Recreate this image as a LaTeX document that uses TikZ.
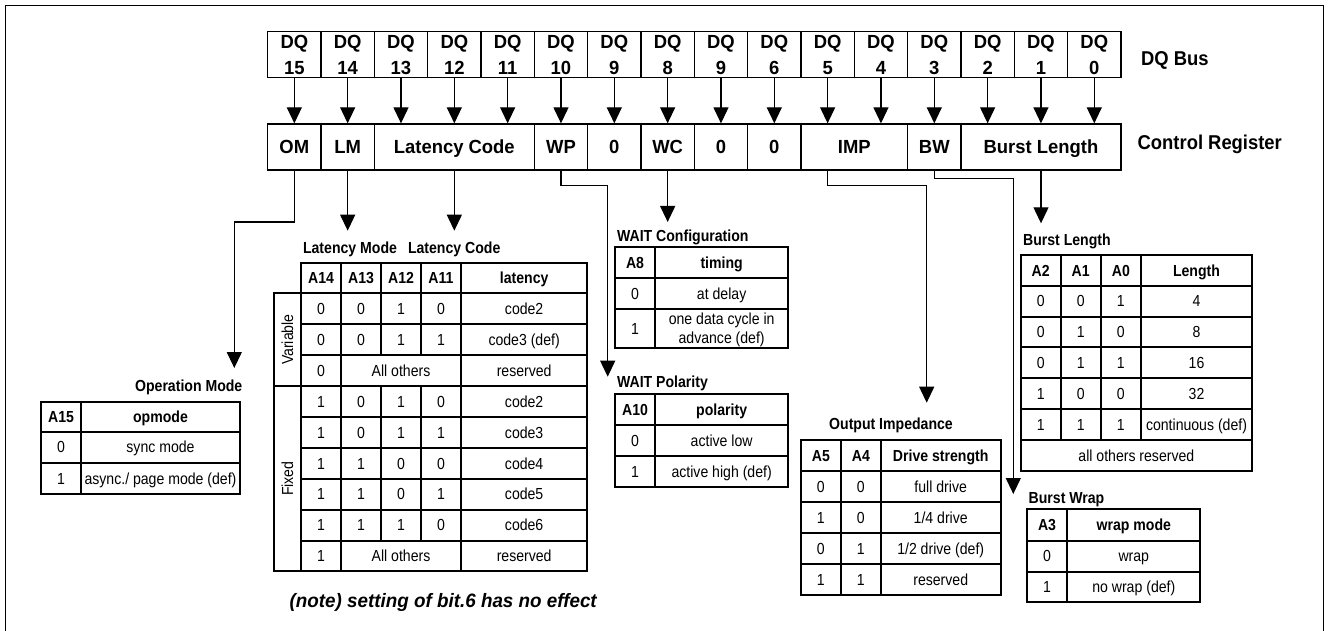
\documentclass[tikz,border=0pt]{standalone}
\usepackage{fontspec}
\setmainfont{Liberation Sans}
\newfontfamily\tabf[FakeStretch=0.88]{Liberation Sans}
\newfontfamily\regf[FakeStretch=0.97]{Liberation Sans}
\newfontfamily\lblf[FakeStretch=0.92]{Liberation Sans}
\usetikzlibrary{arrows.meta}
\tikzset{
  dqcell/.style={draw, line width=0.65pt, minimum width=26.67pt, minimum height=23pt, inner sep=0pt, align=center, font=\regf\bfseries\fontsize{9.5}{13}\selectfont},
  regcell/.style={draw, line width=0.65pt, minimum height=23pt, inner sep=0pt, font=\regf\bfseries\fontsize{9.5}{11}\selectfont, text height=6.8pt, text depth=0pt},
  conn/.style={line width=0.6pt, -{Triangle[width=7.5pt,length=8pt]}},
  tbl/.style={line width=0.9pt},
  tc/.style={inner sep=0pt, font=\tabf\fontsize{8}{9.6}\selectfont, text height=5.73pt, text depth=0pt},
  th/.style={tc, font=\tabf\bfseries\fontsize{8}{9.6}\selectfont},
  ttl/.style={th},
  lbl/.style={inner sep=0pt, font=\lblf\bfseries\fontsize{10}{12}\selectfont, text height=7.2pt, text depth=0pt},
}
\begin{document}
\begin{tikzpicture}[x=0.5pt,y=-0.5pt]
\useasboundingbox (0,0) rectangle (1329,631);
\draw[line width=0.5pt] (5.7,631) -- (5.7,6) -- (1323,6) -- (1323,631);

% DQ bus
\foreach \lab [count=\i from 0] in {15,14,13,12,11,10,9,8,9,6,5,4,3,2,1,0} {
  \node[dqcell] (dq\i) at ({294.33+53.33*\i},54.7) {DQ\\\lab};
}
\node[lbl, anchor=west] (dqbus) at (1140.7,58) {DQ Bus};

% Control register
\node[regcell, minimum width=26.67pt] (om) at (294.33,147) {OM};
\node[regcell, minimum width=26.67pt] (lm) at (347.67,147) {LM};
\node[regcell, minimum width=80pt] (lc) at (454.33,147) {Latency Code};
\node[regcell, minimum width=26.67pt] (wp) at (561,147) {WP};
\node[regcell, minimum width=26.67pt] (r9) at (614.33,147) {0};
\node[regcell, minimum width=26.67pt] (wc) at (667.67,147) {WC};
\node[regcell, minimum width=26.67pt] (r7) at (721,147) {0};
\node[regcell, minimum width=26.67pt] (r6) at (774.33,147) {0};
\node[regcell, minimum width=53.33pt] (imp) at (854.33,147) {IMP};
\node[regcell, minimum width=26.67pt] (bw) at (934.33,147) {BW};
\node[regcell, minimum width=80pt] (bl) at (1041,147) {Burst Length};
\node[lbl, anchor=west] (ctrl) at (1137.3,142.5) {Control Register};

\foreach \i/\r in {0/om,1/lm,2/lc,3/lc,4/lc,5/wp,6/r9,7/wc,8/r7,9/r6,10/imp,11/imp,12/bw,13/bl,14/bl,15/bl}
  \draw[conn] (dq\i.south) -- (dq\i.south |- \r.north);

% connectors to tables
\coordinate (omtip) at (234.3,368);
\coordinate (lmtip) at (347.67,230.7);
\coordinate (lctip) at (454.33,230.7);
\coordinate (wptip) at (607.7,376.7);
\coordinate (wctip) at (667.67,222);
\coordinate (imptip) at (926.7,402.7);
\coordinate (bwtip) at (1013.3,494);
\coordinate (bltip) at (1041,223.3);
\draw[conn] (om.south) |- (234.3,222) -- (omtip);
\draw[conn] (lm.south) -- (lmtip);
\draw[conn] (lc.south) -- (lctip);
\draw[conn] (wp.south) |- (607.7,185.7) -- (wptip);
\draw[conn] (wc.south) -- (wctip);
\draw[conn] (dq10.center |- imp.south) |- (926.7,185.7) -- (imptip);
\draw[conn] (bw.south) |- (1013.3,178.3) -- (bwtip);
\draw[conn] (bl.south) -- (bltip);

% Operation Mode table
\node[ttl, anchor=east] (t-om) at (242.7,385.7) {Operation Mode};
\draw[tbl] (41,401.7) rectangle (240,494.3) (81,401.7) -- (81,494.3) (41,431.7) -- (240,431.7) (41,462.7) -- (240,462.7);
\node[th] (om-h1) at (61,416.7) {A15};
\node[th] (om-h2) at (160.5,416.7) {opmode};
\node[tc] (om-11) at (61,447.2) {0};
\node[tc] (om-12) at (160.5,447.2) {sync mode};
\node[tc] (om-21) at (61,478.5) {1};
\node[tc] (om-22) at (160.5,478.5) {async./ page mode (def)};

% Latency table
\node[ttl] (t-lm) at (350,247.3) {Latency Mode};
\node[ttl] (t-lc) at (454.2,247.3) {Latency Code};
\draw[tbl] (301,262.7) rectangle (587.3,571.3);
\draw[tbl] (274,293.3) rectangle (301,571.3);
\draw[tbl] (274,386) -- (301,386);
\foreach \y in {293.3,324.3,355.3,386,416.7,448,478.7,509.7,540.7} \draw[tbl] (301,\y) -- (587.3,\y);
\draw[tbl] (341,262.7) -- (341,571.3) (461,262.7) -- (461,571.3);
\foreach \x in {381,421} \draw[tbl] (\x,262.7) -- (\x,355.3) (\x,386) -- (\x,540.7);
\foreach \t/\x [count=\k] in {A14/321,A13/361,A12/401,A11/441,latency/524.15}
  \node[th] (lt-h\k) at (\x,278) {\t};
\foreach \y/\a/\b/\c/\d/\e [count=\k] in {308.8/0/0/1/0/code2, 339.8/0/0/1/1/code3 (def), 401.35/1/0/1/0/code2, 432.35/1/0/1/1/code3, 463.35/1/1/0/0/code4, 494.2/1/1/0/1/code5, 525.2/1/1/1/0/code6} {
  \node[tc] (lt-\k a) at (321,\y) {\a};
  \node[tc] (lt-\k b) at (361,\y) {\b};
  \node[tc] (lt-\k c) at (401,\y) {\c};
  \node[tc] (lt-\k d) at (441,\y) {\d};
  \node[tc] (lt-\k e) at (524.15,\y) {\e};
}
\node[tc] (lt-va) at (321,370.65) {0};
\node[tc] (lt-vb) at (401,370.65) {All others};
\node[tc] (lt-vc) at (524.15,370.65) {reserved};
\node[tc] (lt-fa) at (321,556) {1};
\node[tc] (lt-fb) at (401,556) {All others};
\node[tc] (lt-fc) at (524.15,556) {reserved};
\node[tc, rotate=90] (lt-var) at (287.5,339.65) {Variable};
\node[tc, rotate=90] (lt-fix) at (287.5,478.65) {Fixed};

% WAIT Configuration
\node[ttl, anchor=west] (t-wc) at (616.7,235.7) {WAIT Configuration};
\draw[tbl] (615,247.3) rectangle (788.3,347.7) (655,247.3) -- (655,347.7) (615,278.3) -- (788.3,278.3) (615,309.3) -- (788.3,309.3);
\node[th] (wc-h1) at (635,262.8) {A8};
\node[th] (wc-h2) at (721.65,262.8) {timing};
\node[tc] (wc-11) at (635,293.8) {0};
\node[tc] (wc-12) at (721.65,293.8) {at delay};
\node[tc] (wc-21) at (635,328.5) {1};
\node[tc] (wc-22a) at (721.65,319) {one data cycle in};
\node[tc] (wc-22b) at (721.65,337.5) {advance (def)};

% WAIT Polarity
\node[ttl, anchor=west] (t-wp) at (616.7,381.7) {WAIT Polarity};
\draw[tbl] (615,394) rectangle (788.3,486.7) (655,394) -- (655,486.7) (615,425) -- (788.3,425) (615,456) -- (788.3,456);
\node[th] (wp-h1) at (635,409.5) {A10};
\node[th] (wp-h2) at (721.65,409.5) {polarity};
\node[tc] (wp-11) at (635,440.5) {0};
\node[tc] (wp-12) at (721.65,440.5) {active low};
\node[tc] (wp-21) at (635,471.35) {1};
\node[tc] (wp-22) at (721.65,471.35) {active high (def)};

% Output Impedance
\node[ttl] (t-oi) at (891,424) {Output Impedance};
\draw[tbl] (800.7,440) rectangle (1000.7,594.7);
\draw[tbl] (841,440) -- (841,594.7) (880.7,440) -- (880.7,594.7);
\foreach \y in {471,502.3,533.3,564} \draw[tbl] (800.7,\y) -- (1000.7,\y);
\node[th] (oi-h1) at (820.85,455.5) {A5};
\node[th] (oi-h2) at (860.85,455.5) {A4};
\node[th] (oi-h3) at (940.7,455.5) {Drive strength};
\foreach \y/\a/\b/\c [count=\k] in {486.65/0/0/full drive, 517.8/1/0/1\slash 4 drive, 548.65/0/1/1\slash 2 drive (def), 579.35/1/1/reserved} {
  \node[tc] (oi-\k a) at (820.85,\y) {\a};
  \node[tc] (oi-\k b) at (860.85,\y) {\b};
  \node[tc] (oi-\k c) at (940.7,\y) {\c};
}

% Burst Length
\node[ttl, anchor=west] (t-bl) at (1022.7,239.3) {Burst Length};
\draw[tbl] (1020.7,255) rectangle (1252,470.7);
\foreach \x in {1060.7,1100.7,1141} \draw[tbl] (\x,255) -- (\x,440);
\foreach \y in {285.7,316.7,347.3,378.3,409.3,440} \draw[tbl] (1020.7,\y) -- (1252,\y);
\foreach \t/\x [count=\k] in {A2/1040.7,A1/1080.7,A0/1120.85,Length/1196.5}
  \node[th] (bl-h\k) at (\x,270.35) {\t};
\foreach \y/\a/\b/\c/\d [count=\k] in {301.2/0/0/1/4, 332/0/1/0/8, 362.8/0/1/1/16, 393.8/1/0/0/32, 424.65/1/1/1/continuous (def)} {
  \node[tc] (bl-\k a) at (1040.7,\y) {\a};
  \node[tc] (bl-\k b) at (1080.7,\y) {\b};
  \node[tc] (bl-\k c) at (1120.85,\y) {\c};
  \node[tc] (bl-\k d) at (1196.5,\y) {\d};
}
\node[tc] (bl-res) at (1136.35,455.35) {all others reserved};

% Burst Wrap
\node[ttl, anchor=west] (t-bw) at (1028.3,497.3) {Burst Wrap};
\draw[tbl] (1026.7,509.3) rectangle (1200.3,602.3) (1067.3,509.3) -- (1067.3,602.3) (1026.7,540.7) -- (1200.3,540.7) (1026.7,571.7) -- (1200.3,571.7);
\node[th] (bw-h1) at (1047,525) {A3};
\node[th] (bw-h2) at (1133.8,525) {wrap mode};
\node[tc] (bw-11) at (1047,556.2) {0};
\node[tc] (bw-12) at (1133.8,556.2) {wrap};
\node[tc] (bw-21) at (1047,587) {1};
\node[tc] (bw-22) at (1133.8,587) {no wrap (def)};

% note
\node[inner sep=0pt, anchor=west, font=\regf\bfseries\itshape\fontsize{9.7}{11}\selectfont, text height=6.95pt, text depth=0pt] (note) at (289.3,601) {(note) setting of bit.6 has no effect};
\end{tikzpicture}
\end{document}
